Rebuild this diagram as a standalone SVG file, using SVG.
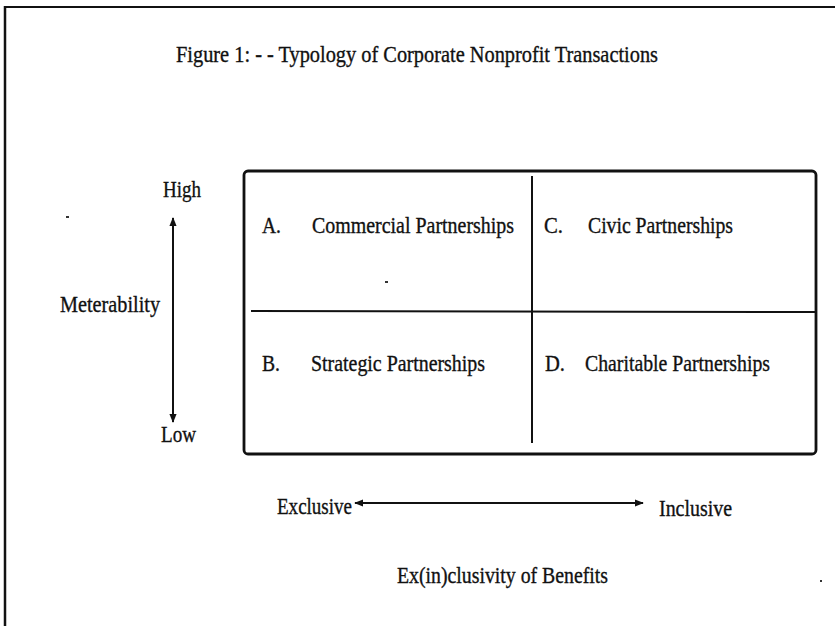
<svg xmlns="http://www.w3.org/2000/svg" width="835" height="626" viewBox="0 0 835 626">
<defs>
<style>
text{font-family:"Liberation Serif","Times New Roman",serif;font-size:20px;fill:#111;stroke:#111;stroke-width:0.3;}
.ln{stroke:#111;fill:none;}
</style>
<marker id="ah" viewBox="0 0 10 10" refX="9" refY="5" markerWidth="9" markerHeight="9" markerUnits="userSpaceOnUse" orient="auto-start-reverse">
<path d="M0,1 L10,5 L0,9 Z" fill="#111"/>
</marker>
</defs>
<rect width="835" height="626" fill="#fff"/>
<g id="frame">
<line class="ln" x1="4" y1="7" x2="835" y2="7" stroke-width="2"/>
<line class="ln" x1="5" y1="6" x2="5" y2="626" stroke-width="2.5"/>
</g>
<g id="title"><text transform="translate(176,62) scale(1,1.2)" textLength="482" lengthAdjust="spacingAndGlyphs">Figure 1: - - Typology of Corporate Nonprofit Transactions</text></g>
<g id="grid">
<rect x="244" y="171" width="572" height="283" rx="4" class="ln" stroke-width="2.8"/>
<line class="ln" x1="532" y1="176" x2="532" y2="443" stroke-width="2"/>
<line class="ln" x1="251" y1="311" x2="815" y2="312" stroke-width="2"/>
</g>
<g id="quadA"><text transform="translate(262,233) scale(1,1.2)" textLength="19" lengthAdjust="spacingAndGlyphs">A.</text><text transform="translate(312,233) scale(1,1.2)" textLength="202" lengthAdjust="spacingAndGlyphs">Commercial Partnerships</text></g>
<g id="quadC"><text transform="translate(544,233) scale(1,1.2)" textLength="19" lengthAdjust="spacingAndGlyphs">C.</text><text transform="translate(588,233) scale(1,1.2)" textLength="145" lengthAdjust="spacingAndGlyphs">Civic Partnerships</text></g>
<g id="quadB"><text transform="translate(262,371) scale(1,1.2)" textLength="18" lengthAdjust="spacingAndGlyphs">B.</text><text transform="translate(311,371) scale(1,1.2)" textLength="174" lengthAdjust="spacingAndGlyphs">Strategic Partnerships</text></g>
<g id="quadD"><text transform="translate(545,371) scale(1,1.2)" textLength="20" lengthAdjust="spacingAndGlyphs">D.</text><text transform="translate(585,371) scale(1,1.2)" textLength="185" lengthAdjust="spacingAndGlyphs">Charitable Partnerships</text></g>
<g id="yaxis">
<text transform="translate(163,197) scale(1,1.2)" textLength="38" lengthAdjust="spacingAndGlyphs">High</text>
<text transform="translate(60,312) scale(1,1.2)" textLength="100" lengthAdjust="spacingAndGlyphs">Meterability</text>
<text transform="translate(161,442) scale(1,1.2)" textLength="35" lengthAdjust="spacingAndGlyphs">Low</text>
</g>
<g id="xaxis">
<text transform="translate(277,514) scale(1,1.2)" textLength="75" lengthAdjust="spacingAndGlyphs">Exclusive</text>
<text transform="translate(659,516) scale(1,1.2)" textLength="73" lengthAdjust="spacingAndGlyphs">Inclusive</text>
<text transform="translate(397,583) scale(1,1.2)" textLength="211" lengthAdjust="spacingAndGlyphs">Ex(in)clusivity of Benefits</text>
</g>
<g id="connectors">
<line class="ln" x1="173" y1="218" x2="173" y2="422" stroke-width="2" marker-start="url(#ah)" marker-end="url(#ah)"/>
<line class="ln" x1="355" y1="503" x2="643" y2="503" stroke-width="2" marker-start="url(#ah)" marker-end="url(#ah)"/>
</g>
<g id="specks" fill="#333">
<rect x="66" y="216" width="3" height="2"/>
<rect x="385" y="281" width="3" height="2"/>
<rect x="820" y="580" width="2" height="2"/>
</g>
</svg>
